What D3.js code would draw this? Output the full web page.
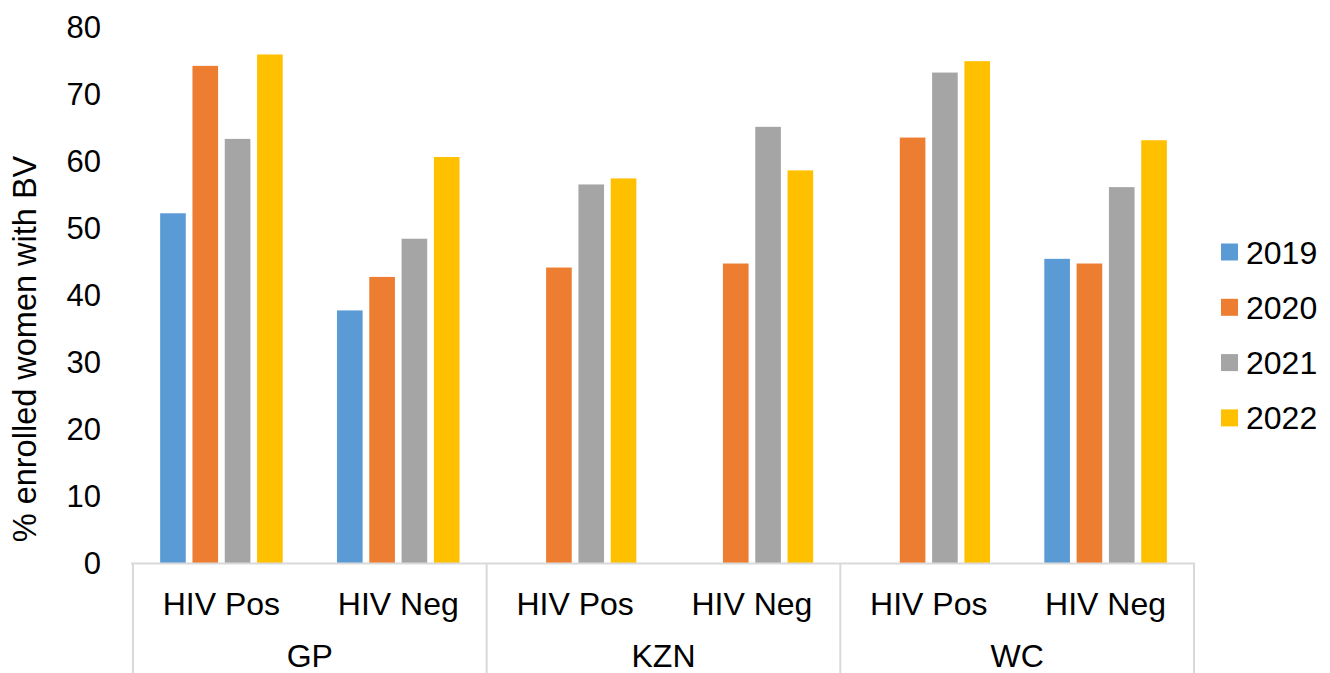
<!DOCTYPE html>
<html>
<head>
<meta charset="utf-8">
<script src="https://cdn.jsdelivr.net/npm/d3@7"></script>
<style>
  html, body { margin: 0; padding: 0; background: #fff; }
  svg { display: block; }
  text { font-family: "Liberation Sans", Arial, sans-serif; fill: #000; }
</style>
</head>
<body>
<svg id="chart" width="1330" height="673"></svg>
<script>
// ---- data ----
const groups = ["GP", "KZN", "WC"];
const subcats = ["HIV Pos", "HIV Neg"];
const years = ["2019", "2020", "2021", "2022"];
const values2019 = [52.2, 37.7, null, null, null, 45.4];
const values2020 = [74.2, 42.7, 44.1, 44.7, 63.5, 44.7];
const values2021 = [63.3, 48.4, 56.5, 65.1, 73.2, 56.1];
const values2022 = [75.9, 60.6, 57.4, 58.6, 74.9, 63.1];
const yTicks = [0, 10, 20, 30, 40, 50, 60, 70, 80];
const yTitle = "% enrolled women with BV";
const colors = ["#5b9bd5", "#ed7d31", "#a5a5a5", "#ffc000"];

(function () {
const seriesValues = [values2019, values2020, values2021, values2022];
const cats = [];
groups.forEach(g => subcats.forEach(s => cats.push(g + "|" + s)));

const svg = d3.select("#chart");
const pLeft = 133, pRight = 1194, pTop = 27, pBottom = 563;

const x0 = d3.scaleBand().domain(cats).range([pLeft, pRight]).paddingInner(0).paddingOuter(0);
const x1 = d3.scaleBand().domain(years).range([0, x0.bandwidth()]).paddingInner(0.207).paddingOuter(0.84);
const y = d3.scaleLinear().domain([0, 80]).range([pBottom, pTop]);

const FS = 31;

// bars
years.forEach((yr, si) => {
  const data = cats.map((c, i) => ({ c, v: seriesValues[si][i] })).filter(d => d.v != null);
  svg.append("g").selectAll("rect").data(data).join("rect")
    .attr("x", d => x0(d.c) + x1(yr))
    .attr("y", d => y(d.v))
    .attr("width", x1.bandwidth())
    .attr("height", d => y(0) - y(d.v))
    .attr("fill", colors[si]);
});

// y axis labels
const yAxis = d3.axisLeft(y).tickValues(yTicks).tickSize(0).tickPadding(0);
const gy = svg.append("g").attr("transform", `translate(101,0)`).call(yAxis);
gy.select(".domain").remove();
gy.selectAll("text").attr("font-size", FS).attr("font-family", "Liberation Sans, Arial, sans-serif").attr("fill", "#000").attr("dy", "0.35em");

// x axis line
svg.append("line").attr("x1", pLeft - 2).attr("x2", pRight + 1).attr("y1", pBottom + 0.5).attr("y2", pBottom + 0.5)
  .attr("stroke", "#d9d9d9").attr("stroke-width", 2);

// group separators
const sepX = groups.map(g => x0(g + "|" + subcats[0])).concat([pRight]);
svg.append("g").selectAll("line").data(sepX).join("line")
  .attr("x1", d => d).attr("x2", d => d).attr("y1", pBottom).attr("y2", 673)
  .attr("stroke", "#d9d9d9").attr("stroke-width", 2);

// subcategory labels
svg.append("g").selectAll("text").data(cats).join("text")
  .attr("x", d => x0(d) + x0.bandwidth() / 2)
  .attr("y", 615)
  .attr("text-anchor", "middle")
  .attr("font-size", 32)
  .text(d => d.split("|")[1]);

// group labels
svg.append("g").selectAll("text").data(groups).join("text")
  .attr("x", g => (x0(g + "|" + subcats[0]) + x0(g + "|" + subcats[1]) + x0.bandwidth()) / 2)
  .attr("y", 667)
  .attr("text-anchor", "middle")
  .attr("font-size", 32)
  .text(g => g);

// y title
svg.append("text")
  .attr("transform", `translate(36,${(150 + 548) / 2}) rotate(-90)`)
  .attr("text-anchor", "middle")
  .attr("font-size", 32.5)
  .text(yTitle);

// legend
const leg = svg.append("g").selectAll("g").data(years).join("g")
  .attr("transform", (d, i) => `translate(1221,${252 + i * 55.3})`);
leg.append("rect").attr("x", 0).attr("y", -8.5).attr("width", 17).attr("height", 17).attr("fill", (d, i) => colors[i]);
leg.append("text").attr("x", 25).attr("y", 0).attr("dy", "0.36em").attr("font-size", 32).text(d => d);
})();
</script>
</body>
</html>
